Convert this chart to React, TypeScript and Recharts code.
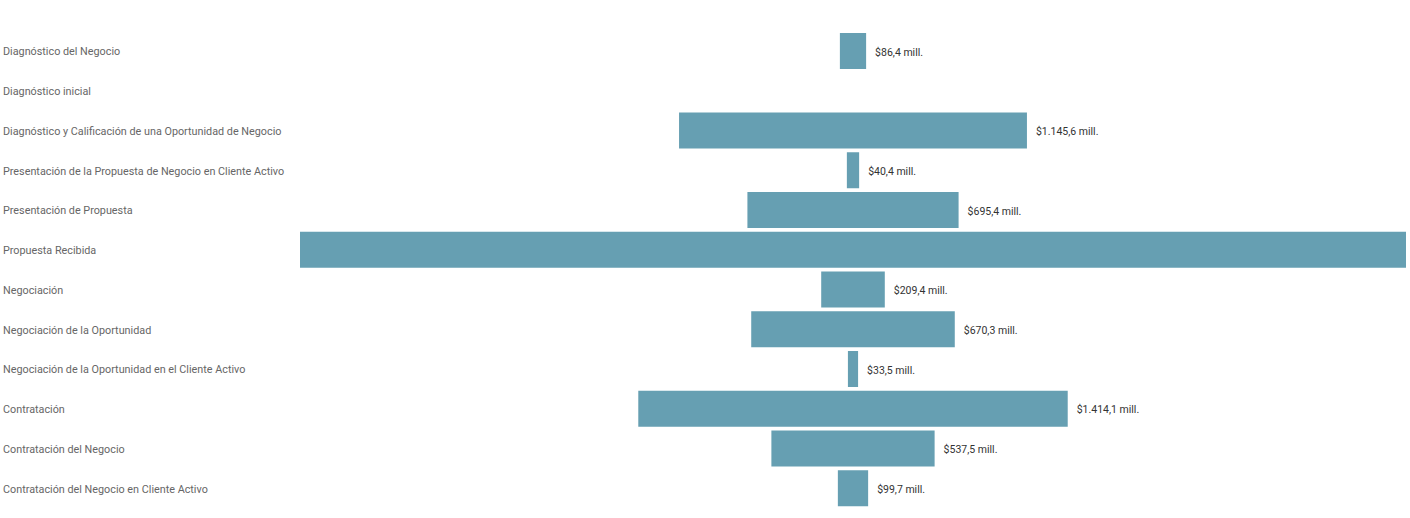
import React from 'react';
import { BarChart, Bar, XAxis, YAxis, LabelList } from 'recharts';

const stages: string[] = [
  'Diagnóstico del Negocio',
  'Diagnóstico inicial',
  'Diagnóstico y Calificación de una Oportunidad de Negocio',
  'Presentación de la Propuesta de Negocio en Cliente Activo',
  'Presentación de Propuesta',
  'Propuesta Recibida',
  'Negociación',
  'Negociación de la Oportunidad',
  'Negociación de la Oportunidad en el Cliente Activo',
  'Contratación',
  'Contratación del Negocio',
  'Contratación del Negocio en Cliente Activo',
];

// values in millions
const amounts: (number | null)[] = [
  86.4, null, 1145.6, 40.4, 695.4, 3642, 209.4, 670.3, 33.5, 1414.1, 537.5, 99.7,
];

const maxAmount = Math.max(...amounts.map((v) => v ?? 0));

const data = stages.map((s, i) => {
  const v = amounts[i] ?? 0;
  return { stage: s, offset: (maxAmount - v) / 2, value: v, raw: amounts[i] };
});

const CHART_W = 1410;
const FONT = "Roboto, 'Noto Sans', sans-serif";

const fmt = (v: number) => {
  const fixed = v.toFixed(1);
  const [intPart, dec] = fixed.split('.');
  const withSep = intPart.replace(/\B(?=(\d{3})+(?!\d))/g, '.');
  return `$${withSep},${dec} mill.`;
};

const CategoryTick = (props: any) => {
  const { y, payload } = props;
  return (
    <text x={3} y={y} dy={4.5} textAnchor="start" fill="#666666" fontSize={10.8} fontFamily={FONT}>
      {payload.value}
    </text>
  );
};

const ValueLabel = (props: any) => {
  const { x, y, width, height, value } = props;
  if (value == null || value === '' || Number.isNaN(Number(value))) return null;
  const lx = Number(x) + Number(width) + 9;
  if (lx + 60 > CHART_W) return null;
  return (
    <text x={lx} y={Number(y) + Number(height) / 2} dy={4.5} fill="#333333" fontSize={10.5} fontFamily={FONT}>
      {fmt(Number(value))}
    </text>
  );
};

export default function App() {
  return (
    <div style={{ position: 'absolute', left: 0, top: 0, width: 1410, height: 518, background: '#ffffff' }}>
      <BarChart
        width={1410}
        height={518}
        data={data}
        layout="vertical"
        margin={{ top: 31, right: 4, bottom: 10, left: 0 }}
        barSize={36}
      >
        <XAxis type="number" hide domain={[0, maxAmount]} />
        <YAxis
          type="category"
          dataKey="stage"
          width={300}
          axisLine={false}
          tickLine={false}
          tick={<CategoryTick />}
          interval={0}
        />
        <Bar dataKey="offset" stackId="f" fill="transparent" isAnimationActive={false} />
        <Bar dataKey="value" stackId="f" fill="#669fb2" isAnimationActive={false}>
          <LabelList dataKey="raw" content={<ValueLabel />} />
        </Bar>
      </BarChart>
    </div>
  );
}
